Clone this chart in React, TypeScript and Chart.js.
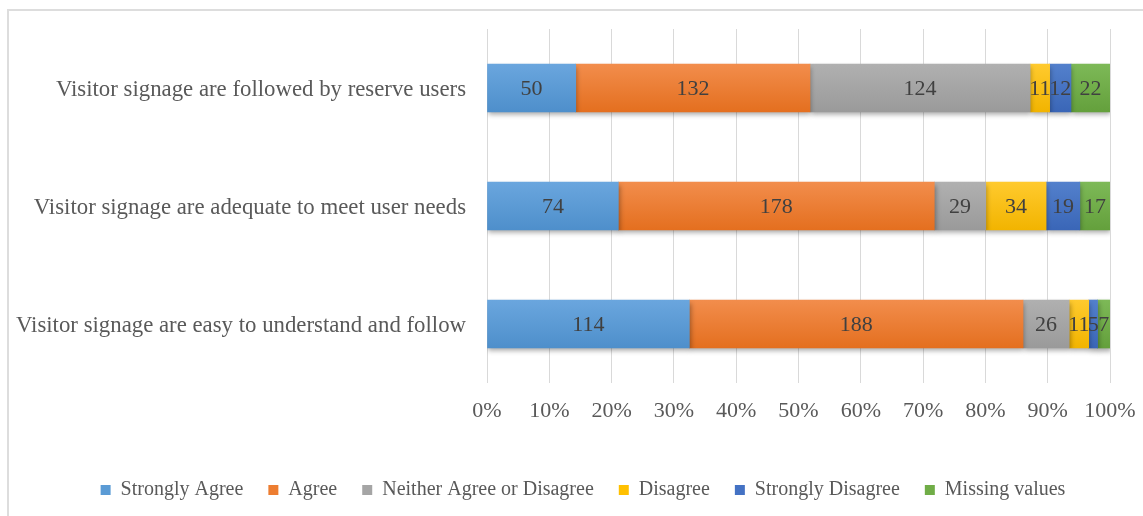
import React, { useEffect, useRef } from 'react';
import { Chart, registerables } from 'chart.js';

Chart.register(...registerables);

const categories = [
  'Visitor signage are followed by reserve users',
  'Visitor signage are adequate to meet user needs',
  'Visitor signage are easy to understand and follow',
];

const seriesNames = [
  'Strongly Agree',
  'Agree',
  'Neither Agree or Disagree',
  'Disagree',
  'Strongly Disagree',
  'Missing values',
];

const stronglyAgree = [50, 74, 114];
const agree = [132, 178, 188];
const neither = [124, 29, 26];
const disagree = [11, 34, 11];
const stronglyDisagree = [12, 19, 5];
const missingValues = [22, 17, 7];

const seriesValues = [stronglyAgree, agree, neither, disagree, stronglyDisagree, missingValues];

const xTickValues = [0, 10, 20, 30, 40, 50, 60, 70, 80, 90, 100];

const baseColors = ['#5B9BD5', '#ED7D31', '#A5A5A5', '#FFC000', '#4472C4', '#70AD47'];
const topColors = ['#6AA6DE', '#F28D4C', '#B0B0B0', '#FFCA2E', '#5380CC', '#7DB957'];
const bottomColors = ['#4E8FCB', '#E46F1F', '#9A9A9A', '#F2B400', '#3A66B7', '#64A03C'];

const FONT = '"Liberation Serif", "Times New Roman", serif';
const BAR_THICKNESS = 48;
const LEGEND_SHIFT = 56;

const totals = categories.map((_, i) => seriesValues.reduce((s, arr) => s + arr[i], 0));

const extrasPlugin = {
  id: 'barExtras',
  afterLayout(chart: any) {
    const lg = chart.legend;
    if (lg) {
      lg.left = lg.left + LEGEND_SHIFT;
      lg.width = lg.right - lg.left;
    }
  },
  beforeDatasetsDraw(chart: any) {
    const ctx = chart.ctx;
    ctx.save();
    ctx.shadowColor = 'rgba(0,0,0,0.35)';
    ctx.shadowBlur = 5;
    ctx.shadowOffsetX = 1;
    ctx.shadowOffsetY = 3;
  },
  afterDatasetsDraw(chart: any) {
    const ctx = chart.ctx;
    ctx.restore();
    ctx.save();
    ctx.font = `22px ${FONT}`;
    ctx.fillStyle = '#404040';
    ctx.textAlign = 'center';
    ctx.textBaseline = 'middle';
    chart.data.datasets.forEach((_ds: any, di: number) => {
      const meta = chart.getDatasetMeta(di);
      meta.data.forEach((bar: any, i: number) => {
        const p = bar.getProps(['x', 'y', 'base'], true);
        const cx = (p.x + p.base) / 2;
        ctx.fillText(String(seriesValues[di][i]), cx, p.y + 1);
      });
    });
    ctx.restore();
  },
};

export default function App() {
  const canvasRef = useRef<HTMLCanvasElement | null>(null);

  useEffect(() => {
    document.body.style.margin = '0';
    const canvas = canvasRef.current;
    if (!canvas) return;

    const datasets = seriesNames.map((name, si) => ({
      label: name,
      data: seriesValues[si].map((v, i) => (v / totals[i]) * 100),
      backgroundColor: (c: any) => {
        const chart = c.chart;
        const ys = chart.scales && chart.scales.y;
        if (!ys || c.type !== 'data' || !chart.chartArea) return baseColors[si];
        const yc = ys.getPixelForValue(c.dataIndex);
        const g = chart.ctx.createLinearGradient(0, yc - BAR_THICKNESS / 2, 0, yc + BAR_THICKNESS / 2);
        g.addColorStop(0, topColors[si]);
        g.addColorStop(1, bottomColors[si]);
        return g;
      },
      borderWidth: 0,
      barThickness: BAR_THICKNESS,
    }));

    const chart = new Chart(canvas, {
      type: 'bar',
      data: { labels: categories, datasets },
      plugins: [extrasPlugin],
      options: {
        indexAxis: 'y',
        animation: false,
        responsive: false,
        maintainAspectRatio: false,
        layout: { padding: { left: 0, right: 33, top: 29, bottom: 6 } },
        scales: {
          x: {
            stacked: true,
            min: 0,
            max: 100,
            afterBuildTicks: (scale: any) => {
              scale.ticks = xTickValues.map((v) => ({ value: v }));
            },
            afterFit: (scale: any) => {
              scale.height = 72;
              scale.paddingLeft = 0;
              scale.paddingRight = 0;
            },
            ticks: {
              callback: (v: any) => `${v}%`,
              color: '#595959',
              font: { family: FONT, size: 22 },
              padding: 15,
              maxRotation: 0,
              autoSkip: false,
            },
            grid: { color: '#D9D9D9', lineWidth: 1, drawTicks: false },
            border: { display: false },
          },
          y: {
            stacked: true,
            afterFit: (scale: any) => {
              scale.width = 487;
              scale.paddingTop = 0;
              scale.paddingBottom = 0;
            },
            ticks: {
              color: '#595959',
              font: { family: FONT, size: 22.8 },
              padding: 21,
              labelOffset: 2,
            },
            grid: { display: false, drawTicks: false },
            border: { display: false },
          },
        },
        plugins: {
          legend: {
            position: 'bottom',
            labels: {
              boxWidth: 10,
              boxHeight: 10,
              padding: 25,
              color: '#595959',
              font: { family: FONT, size: 20 },
              generateLabels: () =>
                seriesNames.map((n, i) => ({
                  text: n,
                  fillStyle: baseColors[i],
                  strokeStyle: baseColors[i],
                  lineWidth: 0,
                  hidden: false,
                  datasetIndex: i,
                  fontColor: '#595959',
                })),
            },
          },
          tooltip: { enabled: false },
        },
      },
    });

    return () => chart.destroy();
  }, []);

  return (
    <div style={{ position: 'relative', width: 1143, height: 516, overflow: 'hidden', background: '#fff' }}>
      <div
        style={{
          position: 'absolute',
          left: 7,
          top: 9,
          width: 1300,
          height: 700,
          borderLeft: '2px solid #DDDDDD',
          borderTop: '2px solid #DDDDDD',
          boxSizing: 'border-box',
        }}
      />
      <canvas ref={canvasRef} width={1143} height={516} style={{ position: 'absolute', left: 0, top: 0, width: 1143, height: 516 }} />
    </div>
  );
}
